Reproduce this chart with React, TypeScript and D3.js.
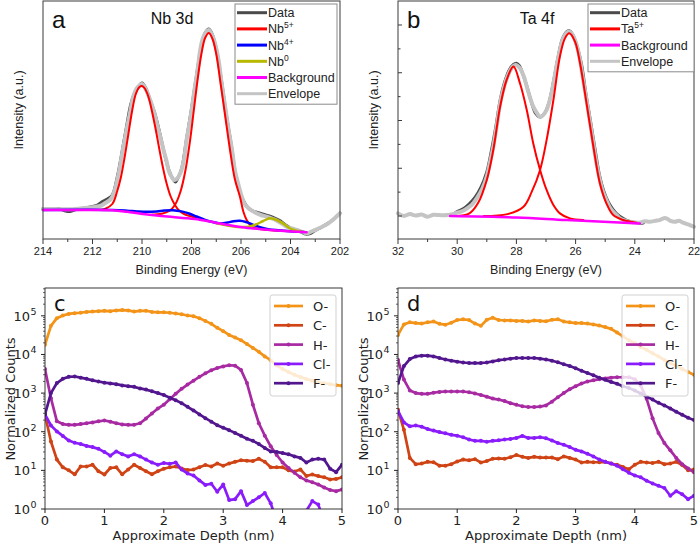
import React from 'react';
import * as d3 from 'd3';

// ---- panel a: Nb 3d, [binding energy (eV), intensity (a.u.)] ----
const nbData: [number, number][] = [
  [214.0, 30.5], [213.7, 29.5], [213.4, 30.5], [213.1, 28.0], [212.9, 27.5], [212.6, 30], [212.3, 31],
  [212.0, 32.5], [211.8, 34], [211.6, 37.5], [211.4, 40], [211.2, 44], [211.0, 62], [210.8, 88],
  [210.6, 116], [210.45, 135], [210.3, 146], [210.15, 152], [210.0, 156], [209.85, 151], [209.7, 141],
  [209.5, 127], [209.3, 108], [209.1, 86], [208.9, 68], [208.75, 60], [208.65, 57], [208.55, 61],
  [208.4, 70], [208.2, 100], [208.0, 130], [207.8, 163], [207.6, 193], [207.45, 206], [207.3, 210],
  [207.15, 204], [207.0, 190], [206.8, 160], [206.6, 125], [206.4, 95], [206.2, 62], [206.0, 44],
  [205.8, 34], [205.6, 29], [205.4, 27], [205.2, 25.5], [205.0, 24], [204.8, 22.5], [204.6, 20.5],
  [204.4, 18], [204.2, 14], [204.0, 11], [203.8, 9], [203.6, 7.5], [203.4, 5], [203.2, 5.5],
  [203.0, 8.5], [202.8, 11], [202.6, 14], [202.4, 17], [202.2, 21], [202.0, 26],
];
const nbEnvelope: [number, number][] = [
  [214.0, 30], [213.5, 30], [213.0, 29.7], [212.5, 30.5], [212.0, 31.7], [211.7, 33], [211.5, 35.7],
  [211.3, 39], [211.2, 42.3], [211.1, 49], [211.0, 59], [210.9, 71], [210.8, 85.7], [210.7, 99],
  [210.6, 112.3], [210.5, 124], [210.35, 142.3], [210.2, 151], [210.0, 155], [209.85, 150],
  [209.67, 139], [209.5, 126], [209.4, 115.7], [209.25, 101], [209.13, 89], [209.0, 77], [208.93, 69],
  [208.8, 62], [208.7, 59], [208.6, 60], [208.45, 65.7], [208.3, 80], [208.2, 99], [208.05, 120],
  [207.9, 145.7], [207.75, 170], [207.65, 189], [207.55, 200], [207.45, 205.7], [207.3, 209],
  [207.15, 203], [207.05, 195.7], [206.9, 178], [206.8, 159], [206.65, 134], [206.5, 109], [206.35, 87],
  [206.25, 69], [206.1, 54], [205.97, 42.3], [205.85, 35], [205.7, 30.7], [205.5, 27.5], [205.37, 25.7],
  [205.2, 24], [204.96, 22.3], [204.75, 20.5], [204.55, 18.3], [204.35, 15.5], [204.15, 12.3],
  [203.95, 10.5], [203.74, 9], [203.5, 7], [203.34, 5.7], [203.15, 7.5], [202.94, 9.7], [202.7, 12.5],
  [202.47, 15.7], [202.25, 20], [202.0, 25.7],
];
const nb5PeakA: [number, number][] = [
  [211.8, 29], [211.5, 30], [211.2, 35], [211.0, 48], [210.85, 62], [210.7, 82], [210.55, 105],
  [210.4, 128], [210.25, 145], [210.1, 152], [210.0, 153], [209.9, 151], [209.75, 143], [209.6, 128],
  [209.45, 110], [209.3, 90], [209.15, 71], [209.0, 55], [208.85, 43], [208.67, 34], [208.5, 28.5],
  [208.3, 25], [208.0, 22.5], [207.7, 20.5],
];
const nb5PeakB: [number, number][] = [
  [209.6, 24.3], [209.2, 25.3], [208.9, 28], [208.67, 34], [208.45, 47], [208.25, 68], [208.05, 100],
  [207.9, 130], [207.75, 160], [207.6, 185], [207.45, 201], [207.3, 206], [207.15, 200], [207.0, 185],
  [206.85, 160], [206.65, 125], [206.45, 90], [206.25, 60], [206.04, 42], [205.9, 27], [205.77, 19],
  [205.6, 13], [205.4, 10.7], [205.0, 9.3], [204.5, 8.3],
];
const nb4: [number, number][] = [
  [214.0, 29], [211.2, 29], [210.6, 28.3], [210.2, 27.6], [209.8, 27.2], [209.4, 27.6], [209.1, 28.4],
  [208.75, 28.8], [208.4, 27.6], [208.1, 25.5], [207.8, 22.5], [207.5, 19.6], [207.2, 17.2], [206.85, 15.6],
  [206.55, 16.4], [206.3, 17.8], [206.04, 18.2], [205.8, 17], [205.5, 14.2], [205.2, 11.6], [204.9, 9.8],
  [204.5, 8.7], [204.0, 7.7], [203.5, 7],
];
const nb0: [number, number][] = [
  [207.0, 15.6], [206.5, 13.3], [206.04, 12], [205.7, 12.3], [205.4, 14.5], [205.1, 18], [204.83, 20.7],
  [204.55, 19], [204.3, 15.5], [204.05, 11], [203.8, 8.5], [203.5, 7],
];
const nbBackground: [number, number][] = [
  [214.0, 29], [212.5, 29], [211.2, 28.8], [210.6, 27.2], [210.05, 25.3], [209.4, 23.4], [208.75, 22],
  [208.2, 20.8], [207.67, 19.3], [207.2, 17.2], [206.85, 15.4], [206.4, 13.5], [206.04, 12.1],
  [205.6, 10.8], [205.2, 9.8], [204.8, 9], [204.4, 8.3], [203.9, 7.5], [203.35, 6.7],
];
const nbTicks = [214, 212, 210, 208, 206, 204, 202];
const nbLegend = [['Data', ''], ['Nb', '5+'], ['Nb', '4+'], ['Nb', '0'], ['Background', ''], ['Envelope', '']];

// ---- panel b: Ta 4f, [binding energy (eV), intensity (kcounts)] ----
const taData: [number, number][] = [
  [30.4, 0.03], [30.2, 0.05], [30.0, 0.18], [29.8, 0.3], [29.6, 0.5], [29.4, 0.78], [29.2, 1.2],
  [29.0, 1.85], [28.85, 2.7], [28.7, 3.7], [28.55, 4.85], [28.4, 5.6], [28.25, 6.1], [28.1, 6.35],
  [28.0, 6.4], [27.9, 6.3], [27.8, 6.0], [27.65, 5.45], [27.5, 4.8], [27.35, 4.3], [27.2, 4.15],
  [27.05, 4.3], [26.9, 4.75], [26.75, 5.6], [26.6, 6.6], [26.45, 7.4], [26.3, 7.72], [26.2, 7.75],
  [26.1, 7.6], [25.95, 7.1], [25.8, 6.35], [25.65, 5.1], [25.5, 4.0], [25.35, 2.85], [25.2, 1.75],
  [25.05, 1.05], [24.9, 0.6], [24.75, 0.3], [24.6, 0.08], [24.4, -0.1], [24.2, -0.22], [24.0, -0.27],
  [23.8, -0.3], [23.7, -0.28],
];
const taEnvelope: [number, number][] = [
  [32.0, 0.11], [31.8, 0.0], [31.6, 0.08], [31.4, 0.02], [31.2, 0.06], [31.0, -0.03], [30.8, 0.05],
  [30.6, 0.04], [30.4, 0.03], [30.2, 0.06], [30.0, 0.14], [29.8, 0.22], [29.67, 0.32], [29.5, 0.48],
  [29.34, 0.74], [29.15, 1.15], [29.0, 1.65], [28.9, 2.2], [28.78, 2.91], [28.65, 3.9], [28.55, 4.72],
  [28.45, 5.25], [28.38, 5.56], [28.3, 5.85], [28.2, 6.12], [28.1, 6.28], [28.04, 6.33], [27.95, 6.28],
  [27.88, 6.19], [27.75, 5.85], [27.65, 5.42], [27.55, 5.0], [27.43, 4.58], [27.3, 4.3], [27.2, 4.16],
  [27.1, 4.22], [26.98, 4.44], [26.85, 4.95], [26.75, 5.56], [26.65, 6.25], [26.53, 6.96], [26.45, 7.35],
  [26.36, 7.58], [26.28, 7.7], [26.21, 7.72], [26.12, 7.62], [26.02, 7.37], [25.93, 7.0], [25.85, 6.54],
  [25.75, 5.75], [25.63, 4.86], [25.5, 3.85], [25.4, 3.04], [25.3, 2.25], [25.18, 1.51], [25.07, 1.0],
  [24.96, 0.67], [24.85, 0.38], [24.73, 0.18], [24.6, 0.02], [24.5, -0.1], [24.3, -0.2], [24.17, -0.24],
  [24.0, -0.27], [23.83, -0.28], [23.65, -0.22], [23.5, -0.24], [23.3, -0.2], [23.16, -0.17],
  [23.0, -0.08], [22.93, -0.1], [22.8, -0.2], [22.65, -0.24], [22.5, -0.2], [22.37, -0.28],
  [22.2, -0.35], [22.0, -0.45],
];
const ta5PeakA: [number, number][] = [
  [30.24, 0], [29.6, 0.1], [29.3, 0.53], [29.0, 1.51], [28.78, 2.77], [28.55, 4.58], [28.33, 5.7],
  [28.1, 6.26], [27.88, 5.56], [27.65, 4.44], [27.43, 3.04], [27.2, 1.93], [26.98, 1.09], [26.75, 0.46],
  [26.53, 0.11], [26.19, -0.1], [25.74, -0.17],
];
const ta5PeakB: [number, number][] = [
  [29.1, 0], [28.3, 0.08], [27.76, 0.39], [27.48, 1.02], [27.2, 1.93], [26.98, 3.18], [26.75, 4.86],
  [26.53, 6.68], [26.36, 7.44], [26.21, 7.65], [26.02, 7.3], [25.85, 6.4], [25.63, 4.72], [25.4, 2.91],
  [25.18, 1.37], [24.96, 0.53], [24.73, 0.04], [24.39, -0.17], [23.94, -0.28],
];
const taBackground: [number, number][] = [[30.24, 0], [28.0, -0.06], [26.3, -0.17], [23.83, -0.31]];
const taTicks = [32, 30, 28, 26, 24, 22];
const taYMajor = [0, 2, 4, 6, 8];
const taYMinor = [1, 3, 5, 7];
const taLegend = [['Data', ''], ['Ta', '5+'], ['Background', ''], ['Envelope', '']];

// ---- panels c, d: ToF-SIMS depth profiles ----
const depth = [
  0, 0.1, 0.2, 0.3, 0.4, 0.5, 0.6, 0.7, 0.8, 0.9, 1.0, 1.1, 1.2, 1.3, 1.4, 1.5, 1.6, 1.7, 1.8, 1.9,
  2.0, 2.1, 2.2, 2.3, 2.4, 2.5, 2.6, 2.7, 2.8, 2.9, 3.0, 3.1, 3.2, 3.3, 3.4, 3.5, 3.6, 3.7, 3.8, 3.9,
  4.0, 4.1, 4.2, 4.3, 4.4, 4.5, 4.6, 4.7, 4.8, 4.9, 5.0,
];
const ions = ['O-', 'C-', 'H-', 'Cl-', 'F-'];
const ionColors = ['#f39419', '#cf4314', '#a82aa3', '#8a1cfb', '#52168e'];

const cO = [17800, 55000, 87000, 102000, 112000, 117000, 120000, 126000, 129000, 132000, 135000, 132000,
  138000, 141000, 138000, 129000, 135000, 135000, 126000, 123000, 123000, 120000, 115000, 110000, 102000,
  98000, 87000, 74000, 62000, 49000, 40000, 32000, 27500, 23400, 18600, 14800, 11700, 8900, 7100, 5200,
  4200, 3500, 3000, 2600, 2300, 2100, 1900, 1800, 1700, 1600, 1550];
const cC = [280, 56, 19, 12, 10, 7.9, 12.6, 12.6, 14, 9.5, 7.8, 11.5, 12, 7.9, 10.5, 14, 11.5, 9.5, 7.9,
  9.5, 11, 12, 12.6, 11.2, 10.2, 10.5, 12, 13.8, 12.6, 15, 13.2, 15, 16.6, 18.2, 17.8, 17.4, 20, 16.6,
  12, 12, 12, 10, 9.3, 10.5, 7.2, 7.8, 7.1, 6.6, 5.8, 6.0, 6.6];
const cH = [4200, 740, 186, 158, 151, 151, 158, 166, 174, 186, 195, 182, 166, 155, 151, 151, 166, 219, 295,
  398, 501, 692, 955, 1290, 1660, 2090, 2630, 3240, 3890, 4470, 4900, 5250, 5130, 3980, 1820, 500, 166,
  79, 42, 25, 16, 11.5, 8.7, 6.6, 5.5, 4.9, 4.3, 3.6, 3.1, 2.9, 3.2];
const cCl = [280, 145, 102, 78, 59, 52, 48, 43, 40, 36, 30, 24, 31, 26, 23, 26, 23, 19, 16, 14, 15.5, 14.8,
  16, 10.5, 8.3, 7.4, 5.5, 4.2, 4.5, 2.8, 4.3, 1.7, 1.8, 2.9, 1.26, 1.6, 2.0, 2.6, 1.4, 0.5, 0.4, 0.4,
  0.5, 0.63, 0.9, 1.6, 1.3, 0.5, 0.4, 0.5, 0.5];
const cF = [280, 1000, 1820, 2340, 2630, 2690, 2510, 2340, 2140, 2000, 1860, 1780, 1700, 1580, 1510, 1450,
  1320, 1230, 1120, 1000, 890, 760, 650, 550, 440, 355, 280, 224, 182, 148, 126, 110, 93, 79, 66, 58, 48,
  38, 31, 30, 28, 26, 23, 21, 16, 19, 20, 19, 11, 9, 14];

const dO = [32000, 60000, 68000, 65000, 63000, 68000, 71000, 62000, 59000, 66000, 78000, 81000, 78000,
  63000, 55000, 79000, 89000, 78000, 76000, 76000, 74000, 74000, 71000, 76000, 74000, 72000, 79000, 81000,
  71000, 68000, 65000, 65000, 63000, 60000, 56000, 51000, 46000, 37000, 29500, 23400, 19500, 15500, 13200,
  10700, 8900, 7200, 5900, 5000, 4200, 3500, 3000];
const dC = [370, 112, 21, 14.5, 15, 16.6, 16.2, 13.2, 13.2, 14.5, 17, 19, 18.2, 19.5, 16, 17.4, 20, 20.4,
  20, 21.9, 25, 22.4, 21, 22.4, 21.4, 21.4, 21.4, 19.5, 23, 21, 19, 16, 16.6, 16.2, 16.2, 16.6, 15, 14,
  12.3, 10.7, 14, 16.6, 16, 15.5, 16.6, 14.5, 15, 16.6, 13.8, 10, 10.5];
const dH = [7200, 2240, 1170, 1000, 955, 955, 1020, 1070, 1100, 1100, 1100, 1100, 1050, 980, 890, 810, 720,
  680, 620, 550, 500, 457, 437, 437, 447, 479, 600, 780, 1000, 1260, 1510, 1780, 2000, 2140, 2290, 2400,
  2510, 2570, 2570, 2570, 2290, 1580, 710, 224, 93, 51, 33, 21, 14.5, 11.2, 8.9];
const dCl = [340, 174, 138, 145, 135, 117, 107, 98, 91, 83, 79, 72, 63, 58, 58, 55, 58, 60, 63, 65, 69, 78,
  69, 69, 72, 68, 59, 51, 46, 40, 34, 31, 27, 23, 19, 16.6, 15, 13.2, 10.7, 8.7, 7.4, 6.6, 5.4, 4.6, 4.0,
  3.5, 2.2, 2.9, 2.4, 1.8, 2.2];
const dF = [1820, 5000, 7600, 8900, 9300, 9300, 8900, 8100, 7400, 6900, 6500, 6200, 6000, 6000, 6000, 6200,
  6600, 7100, 7400, 7800, 8100, 8100, 8100, 8100, 7800, 7400, 6900, 6300, 5600, 5000, 4400, 3800, 3300,
  2900, 2500, 2200, 1950, 1740, 1510, 1350, 1170, 980, 810, 680, 560, 480, 400, 330, 275, 230, 200];

const depthTicks = [0, 1, 2, 3, 4, 5];
const logTicks = [1, 10, 100, 1000, 10000, 100000];

const ARIAL = 'Liberation Sans, Arial, sans-serif';
const DEJAVU = 'DejaVu Sans, sans-serif';

function XpsPanel({ left, right, eDomain, yDomain, ticks, curves, legend, legendX, legendW, letter, title, titleX, yMajor, yMinor }: any) {
  const x = d3.scaleLinear().domain(eDomain).range([left, right]);
  const y = d3.scaleLinear().domain(yDomain).range([239, 1]);
  const line = d3.line<[number, number]>().x(d => x(d[0])).y(d => y(d[1])).curve(d3.curveCatmullRom.alpha(0.5));
  const minor = ticks.slice(1).map((t: number, i: number) => (t + ticks[i]) / 2);
  const rowH = 16.2;
  const cx = (left + right) / 2;
  return (
    <g>
      {curves.map((c: any, i: number) => (
        <path key={i} d={line(c.pts) || ''} fill="none" stroke={c.color} strokeWidth={c.width}
          strokeLinejoin="round" strokeLinecap="round" />
      ))}
      <rect x={left} y={1} width={right - left} height={238} fill="none" stroke="#3a3a3a" strokeWidth={1} />
      {ticks.map((t: number) => (
        <g key={t}>
          <line x1={x(t)} x2={x(t)} y1={239} y2={244} stroke="#3a3a3a" />
          <text x={x(t)} y={255} fontSize={11} textAnchor="middle" fill="#222">{t}</text>
        </g>
      ))}
      {minor.map((t: number) => <line key={t} x1={x(t)} x2={x(t)} y1={239} y2={242} stroke="#3a3a3a" />)}
      {(yMajor || []).map((t: number) => <line key={'M' + t} x1={left} x2={left + 4} y1={y(t)} y2={y(t)} stroke="#3a3a3a" />)}
      {(yMinor || []).map((t: number) => <line key={'m' + t} x1={left} x2={left + 2.5} y1={y(t)} y2={y(t)} stroke="#3a3a3a" />)}
      <text x={cx} y={274} fontSize={12.5} textAnchor="middle" fill="#222">Binding Energy (eV)</text>
      <text transform={`translate(${left - 20},110) rotate(-90)`} fontSize={12.5} textAnchor="middle" fill="#222">Intensity (a.u.)</text>
      <text x={left + 9} y={28} fontSize={24} fill="#111">{letter}</text>
      <text x={titleX} y={23.5} fontSize={16} textAnchor="middle" fill="#111">{title}</text>
      <rect x={legendX} y={4} width={legendW} height={legend.length * rowH + 3} fill="#fff" stroke="#8a8a8a" strokeWidth={1} />
      {legend.map((l: any[], i: number) => {
        const ry = 12.7 + i * rowH;
        return (
          <g key={i}>
            <line x1={legendX + 2} x2={legendX + 32} y1={ry} y2={ry} stroke={curves[l[2]].color} strokeWidth={3} />
            <text x={legendX + 33} y={ry + 4.5} fontSize={12.5} fill="#222">
              {l[0]}
              {l[1] ? <tspan dy={-5} fontSize={8.5}>{l[1]}</tspan> : null}
            </text>
          </g>
        );
      })}
    </g>
  );
}

function DepthPanel({ left, right, series, letter, legendX, id }: any) {
  const top = 288, bottom = 509;
  const x = d3.scaleLinear().domain([0, 5]).range([left, right]);
  const y = d3.scaleLog().domain([1, 525000]).range([bottom, top]);
  const line = d3.line<number>().x((d, i) => x(depth[i])).y(d => y(d));
  const minor = y.ticks().filter(t => !logTicks.includes(t));
  return (
    <g fontFamily={DEJAVU}>
      <defs>
        <clipPath id={id}><rect x={left} y={top} width={right - left} height={bottom - top} /></clipPath>
      </defs>
      <g clipPath={`url(#${id})`}>
        {series.map((s: number[], k: number) => (
          <g key={k}>
            <path d={line(s) || ''} fill="none" stroke={ionColors[k]} strokeWidth={2.7} strokeLinejoin="round" />
            {s.map((v, i) => <circle key={i} cx={x(depth[i])} cy={y(v)} r={2} fill={ionColors[k]} />)}
          </g>
        ))}
      </g>
      <rect x={left} y={top} width={right - left} height={bottom - top} fill="none" stroke="#222" strokeWidth={0.9} />
      {depthTicks.map(t => (
        <g key={t}>
          <line x1={x(t)} x2={x(t)} y1={bottom} y2={bottom + 4} stroke="#222" />
          <text x={x(t)} y={525} fontSize={13} textAnchor="middle" fill="#222">{t}</text>
        </g>
      ))}
      {logTicks.map((t, i) => (
        <g key={t}>
          <line x1={left - 4} x2={left} y1={y(t)} y2={y(t)} stroke="#222" />
          <text x={left - 15} y={y(t) + 5} fontSize={13} textAnchor="end" fill="#222">10</text>
          <text x={left - 14.5} y={y(t) - 1} fontSize={9.5} fill="#222">{i}</text>
        </g>
      ))}
      {minor.map(t => <line key={t} x1={left - 2} x2={left} y1={y(t)} y2={y(t)} stroke="#222" strokeWidth={0.7} />)}
      <text x={(left + right) / 2} y={540} fontSize={13} textAnchor="middle" fill="#222">Approximate Depth (nm)</text>
      <text transform={`translate(${left - 30},399) rotate(-90)`} fontSize={13} textAnchor="middle" fill="#222">Normalized Counts</text>
      <text x={left + 9} y={311} fontSize={21} fill="#111">{letter}</text>
      <rect x={legendX} y={295} width={66} height={101} rx={2.5} fill="#fff" fillOpacity={0.8} stroke="#cccccc" strokeWidth={0.9} />
      {ions.map((n, k) => {
        const ry = 306 + k * 19.3;
        return (
          <g key={n}>
            <line x1={legendX + 4} x2={legendX + 33} y1={ry} y2={ry} stroke={ionColors[k]} strokeWidth={2.7} />
            <circle cx={legendX + 18.5} cy={ry} r={2} fill={ionColors[k]} />
            <text x={legendX + 43} y={ry + 5} fontSize={13} fill="#222">{n}</text>
          </g>
        );
      })}
    </g>
  );
}

export default function App() {
  const nbCurves = [
    { pts: nbData, color: '#4a4a4a', width: 3 },
    { pts: nbEnvelope, color: '#c4c4c4', width: 4 },
    { pts: nb5PeakA, color: '#ff0000', width: 2 },
    { pts: nb5PeakB, color: '#ff0000', width: 2 },
    { pts: nb4, color: '#0000ff', width: 2.5 },
    { pts: nb0, color: '#b8b800', width: 2.5 },
    { pts: nbBackground, color: '#ff00ff', width: 2.5 },
  ];
  const taCurves = [
    { pts: taData, color: '#4a4a4a', width: 3 },
    { pts: taEnvelope, color: '#c4c4c4', width: 4 },
    { pts: ta5PeakA, color: '#ff0000', width: 2 },
    { pts: ta5PeakB, color: '#ff0000', width: 2 },
    { pts: taBackground, color: '#ff00ff', width: 2.5 },
  ];
  // legend entry -> curve index
  const nbLeg = nbLegend.map((l, i) => [l[0], l[1], [0, 2, 4, 5, 6, 1][i]]);
  const taLeg = taLegend.map((l, i) => [l[0], l[1], [0, 2, 4, 1][i]]);
  return (
    <svg width={700} height={545} style={{ position: 'absolute', left: 0, top: 0, background: '#fff' }} fontFamily={ARIAL}>
      <XpsPanel left={43} right={340} eDomain={[214, 202]} yDomain={[0, 238]} ticks={nbTicks}
        curves={nbCurves} legend={nbLeg} legendX={235} legendW={102} letter="a" title="Nb 3d" titleX={172} />
      <XpsPanel left={398} right={694} eDomain={[32, 22]} yDomain={[-0.963, 9.005]} ticks={taTicks}
        curves={taCurves} legend={taLeg} legendX={588} legendW={106} letter="b" title="Ta 4f" titleX={537}
        yMajor={taYMajor} yMinor={taYMinor} />
      <DepthPanel id="clipc" left={45} right={342} series={[cO, cC, cH, cCl, cF]} letter="c" legendX={270} />
      <DepthPanel id="clipd" left={398} right={694} series={[dO, dC, dH, dCl, dF]} letter="d" legendX={622} />
    </svg>
  );
}
